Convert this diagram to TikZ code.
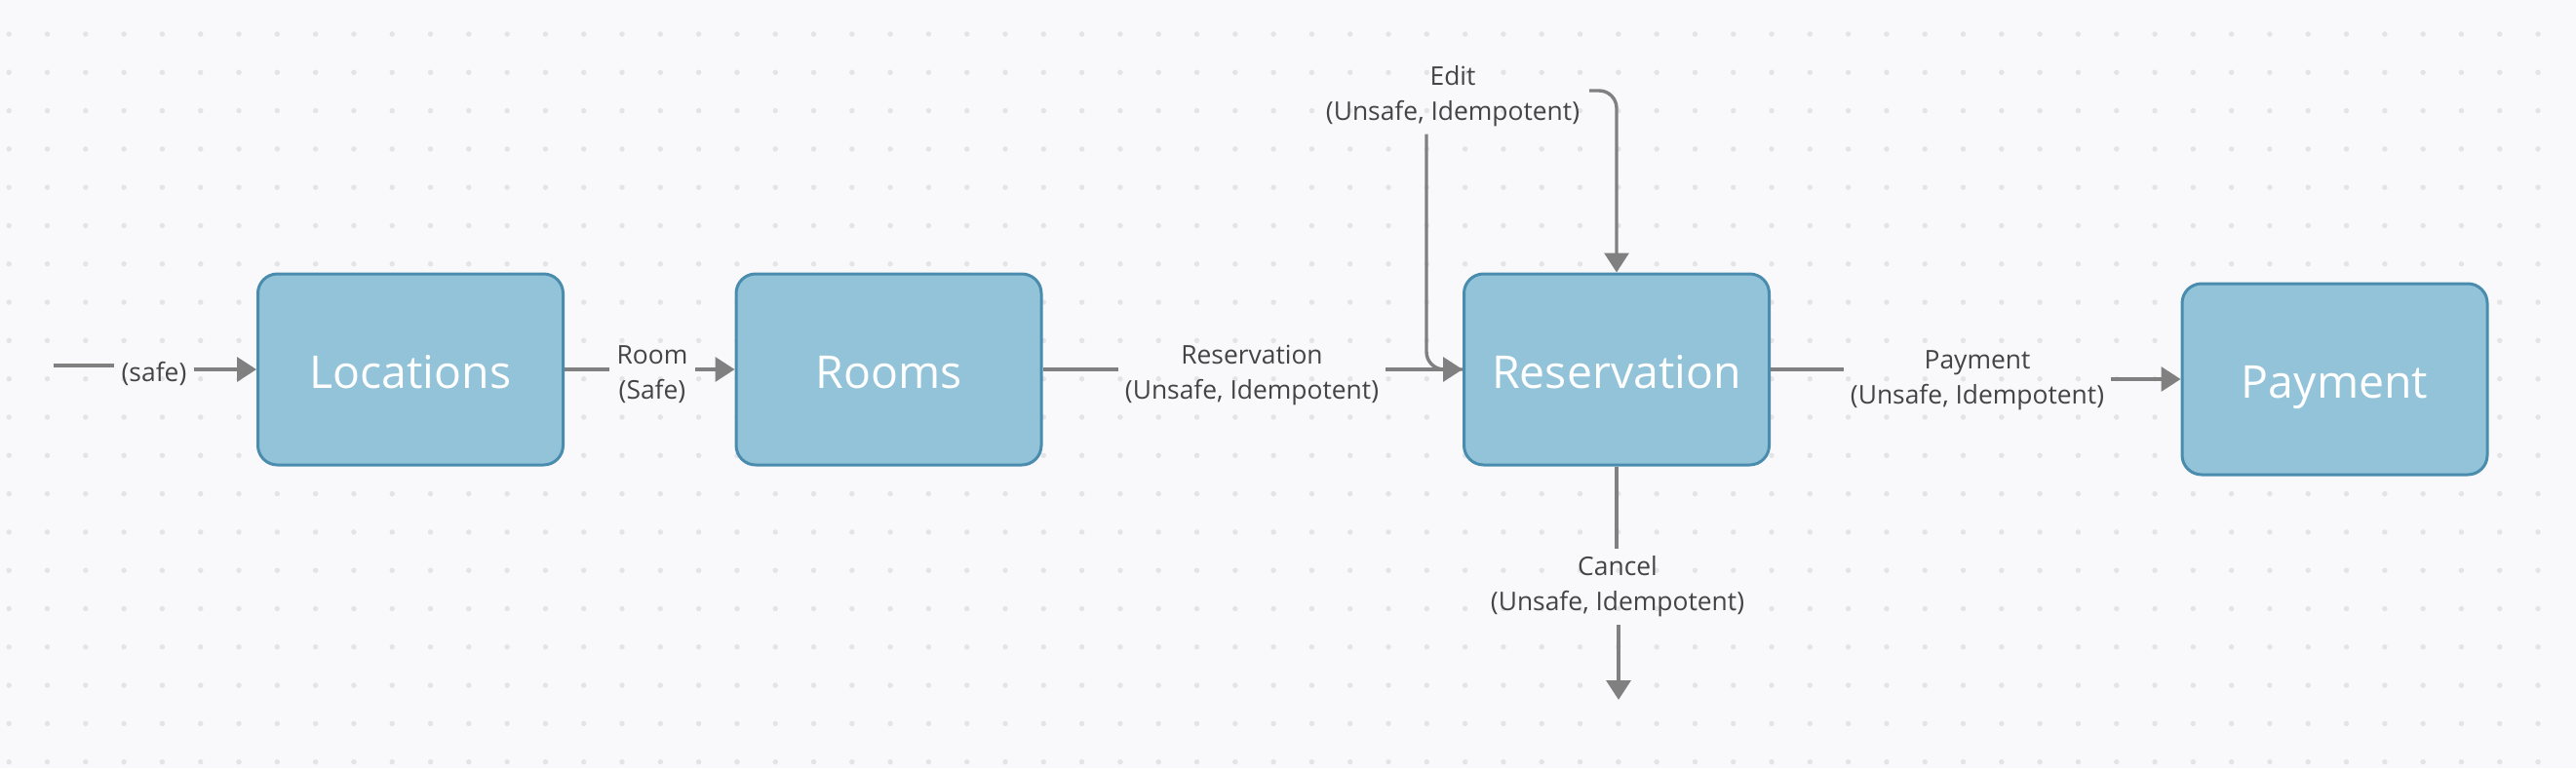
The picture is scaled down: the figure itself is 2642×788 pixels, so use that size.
\documentclass[tikz,border=0pt]{standalone}
\usepackage{fontspec}
\setmainfont{Open Sans}
\usetikzlibrary{arrows.meta}
\definecolor{bg}{HTML}{F9F9FB}
\definecolor{dotc}{HTML}{E3E3E8}
\definecolor{boxfill}{HTML}{92C3D9}
\definecolor{boxline}{HTML}{4A8CAE}
\definecolor{conncol}{HTML}{808080}
\definecolor{lbltext}{HTML}{444444}
\begin{document}
\begin{tikzpicture}[x=0.5pt,y=-0.5pt,
 statebox/.style={draw=boxline, fill=boxfill, line width=1.5pt, rounded corners=10pt, minimum width=156.5pt, minimum height=98pt, inner sep=0pt, text=white, text height=19pt, text depth=0pt, font=\fontsize{23.2}{28}\selectfont},
 lbl/.style={text=lbltext, font=\fontsize{13.2}{18}\selectfont, align=center, inner sep=3.5pt},
 link/.style={draw=conncol, line width=1.7pt},
 arr/.style={link, -{Triangle[length=10pt,width=12.5pt]}},
]
\fill[bg] (0,0) rectangle (2642,788);
\useasboundingbox (0,0) rectangle (2642,788);
\foreach \i in {0,...,66} \foreach \j in {0,...,19} \fill[dotc] (9.2+39.3*\i, 35+39.3*\j) circle (1.35pt);

\node[statebox] (loc) at (421,379) {Locations};
\node[statebox] (rooms) at (911.5,379) {Rooms};
\node[statebox] (resv) at (1658,379) {Reservation};
\node[statebox] (pay) at (2394.5,389) {Payment};

\node[lbl] (safel) at (158,383) {(safe)};
\node[lbl] (rooml) at (669,384) {Room\\(Safe)};
\node[lbl] (resvl) at (1284,385) {Reservation\\(Unsafe, Idempotent)};
\node[lbl] (editl) at (1490,99) {Edit\\(Unsafe, Idempotent)};
\node[lbl] (cancell) at (1659,602) {Cancel\\(Unsafe, Idempotent)};
\node[lbl] (payl) at (2028,390) {Payment\\(Unsafe, Idempotent)};

\coordinate (entry) at (55,375);
\coordinate (editx) at (1463,379);
\coordinate (editr) at (1630,93);
\coordinate (cancelend) at (1660,718);

\draw[link] (entry) -- (entry -| safel.west);
\draw[arr] (safel.east |- loc.west) -- (loc.west);
\draw[link] (loc.east) -- (loc.east -| rooml.west);
\draw[arr] (rooml.east |- rooms.west) -- (rooms.west);
\draw[link] (rooms.east) -- (rooms.east -| resvl.west);
\draw[link, rounded corners=9pt] (editl.south -| editx) |- (resv.west);
\draw[arr] (resvl.east |- resv.west) -- (resv.west);
\draw[arr, rounded corners=9pt] (editr) -| (resv.north);
\draw[link] (resv.south) -- (resv.south |- cancell.north);
\draw[arr] (cancell.south -| cancelend) -- (cancelend);
\draw[link] (resv.east) -- (resv.east -| payl.west);
\draw[arr] (payl.east |- pay.west) -- (pay.west);
\end{tikzpicture}
\end{document}
